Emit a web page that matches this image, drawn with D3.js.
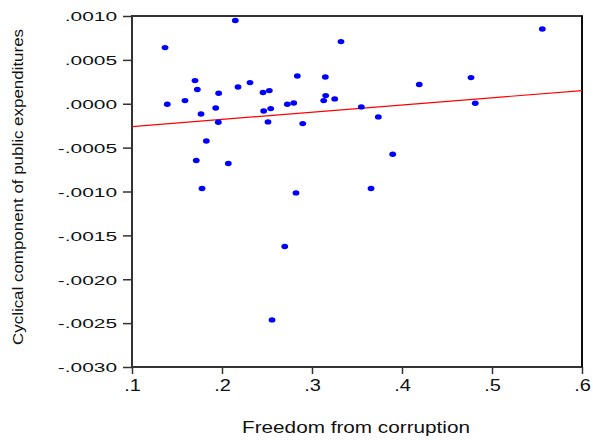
<!DOCTYPE html>
<html>
<head>
<meta charset="utf-8">
<script src="https://cdn.jsdelivr.net/npm/d3@7"></script>
<style>
  body { margin: 0; background: #fff; }
  text { font-family: "Liberation Sans", Arial, sans-serif; fill: #111; }
</style>
</head>
<body>
<svg id="chart" width="593" height="440"></svg>
<script>
// Freedom from corruption (x) vs cyclical component of public expenditures (y)
var freedom = [0.2148, 0.1367, 0.170, 0.1726, 0.1963, 0.2178, 0.2311, 0.1392, 0.1589, 0.1767,
               0.1930, 0.1959, 0.1826, 0.3322, 0.2837, 0.3148, 0.2456, 0.2526, 0.3152, 0.3130,
               0.3252, 0.2726, 0.2797, 0.2463, 0.2541, 0.3548, 0.2511, 0.2897, 0.5559, 0.4192,
               0.4767, 0.4814, 0.3737, 0.3897, 0.3656, 0.1714, 0.2070, 0.1778, 0.2822, 0.2697,
               0.2556];
var cyclical = [0.000948, 0.000640, 0.000264, 0.000162, 0.000120, 0.000191, 0.000241, -0.000006, 0.000036, -0.000116,
                -0.000048, -0.000211, -0.000424, 0.000708, 0.000317, 0.000305, 0.000128, 0.000150, 0.000093, 0.000036,
                0.000055, -0.000006, 0.000009, -0.000082, -0.000055, -0.000036, -0.000207, -0.000226, 0.000852, 0.000219,
                0.000298, 0.000006, -0.000150, -0.000575, -0.000966, -0.000647, -0.000681, -0.000966, -0.001016, -0.001626,
                -0.002463];
// fitted line: intercept, slope
var fit = [-0.000342, 0.00082];
var xTicks = [0.1, 0.2, 0.3, 0.4, 0.5, 0.6];
var yTicks = [0.0010, 0.0005, 0.0000, -0.0005, -0.0010, -0.0015, -0.0020, -0.0025, -0.0030];

var svg = d3.select("#chart");
var plotLeft = 132, plotRight = 582, plotTop = 16, plotBottom = 367;

var x = d3.scaleLinear().domain([0.1, 0.6]).range([plotLeft, plotRight]);
var y = d3.scaleLinear().domain([-0.0030, 0.0010]).range([plotBottom, plotTop]);

function fmtY(v) {
  var s = Math.abs(v).toFixed(4).replace(/^0/, "");
  return (v < -1e-9 ? "-" : "") + s;
}
function fmtX(v) {
  return v.toFixed(1).replace(/^0/, "");
}

// frame
svg.append("rect")
    .attr("x", plotLeft).attr("y", plotTop)
    .attr("width", plotRight - plotLeft).attr("height", plotBottom - plotTop)
    .attr("fill", "none")
    .attr("stroke", "#333")
    .attr("stroke-width", 2);

// y axis
var yAxis = svg.append("g")
    .attr("transform", "translate(" + plotLeft + ",0)")
    .call(d3.axisLeft(y).tickValues(yTicks).tickSize(9).tickPadding(6).tickFormat(fmtY));
yAxis.select(".domain").remove();
yAxis.selectAll("line").attr("stroke", "#333").attr("stroke-width", 1.5);
yAxis.selectAll("text")
    .attr("font-size", 13.5)
    .attr("x", -15 / 1.55)
    .attr("transform", "scale(1.55,1)")
    .attr("dy", "0.36em");

// x axis
var xAxis = svg.append("g")
    .attr("transform", "translate(0," + plotBottom + ")")
    .call(d3.axisBottom(x).tickValues(xTicks).tickSize(7).tickPadding(6).tickFormat(fmtX));
xAxis.select(".domain").remove();
xAxis.selectAll("line").attr("stroke", "#333").attr("stroke-width", 1.5);
xAxis.selectAll("text")
    .attr("font-size", 16)
    .attr("transform", "scale(1.25,1)");

// right border in black
svg.append("line")
    .attr("x1", plotRight).attr("x2", plotRight)
    .attr("y1", plotTop).attr("y2", plotBottom)
    .attr("stroke", "#000").attr("stroke-width", 1.5);

// regression line
svg.append("clipPath").attr("id", "plot")
  .append("rect")
    .attr("x", plotLeft).attr("y", plotTop)
    .attr("width", plotRight - plotLeft).attr("height", plotBottom - plotTop);
svg.append("line")
    .attr("clip-path", "url(#plot)")
    .attr("x1", x(0.1)).attr("y1", y(fit[0] + fit[1] * 0.1))
    .attr("x2", x(0.6)).attr("y2", y(fit[0] + fit[1] * 0.6))
    .attr("stroke", "#ff0000")
    .attr("stroke-width", 1.2);

// points
svg.append("g").selectAll("ellipse")
    .data(freedom)
    .enter().append("ellipse")
      .attr("cx", function(d) { return x(d); })
      .attr("cy", function(d, i) { return y(cyclical[i]); })
      .attr("rx", 3.4)
      .attr("ry", 2.7)
      .attr("fill", "#0000ff");

// axis titles
svg.append("text")
    .attr("x", 356).attr("y", 433)
    .attr("text-anchor", "middle")
    .attr("font-size", 16)
    .attr("textLength", 228)
    .attr("lengthAdjust", "spacingAndGlyphs")
    .text("Freedom from corruption");

svg.append("text")
    .attr("transform", "translate(23,187) rotate(-90)")
    .attr("text-anchor", "middle")
    .attr("font-size", 15)
    .attr("textLength", 316)
    .attr("lengthAdjust", "spacingAndGlyphs")
    .text("Cyclical component of public expenditures");
</script>
</body>
</html>
